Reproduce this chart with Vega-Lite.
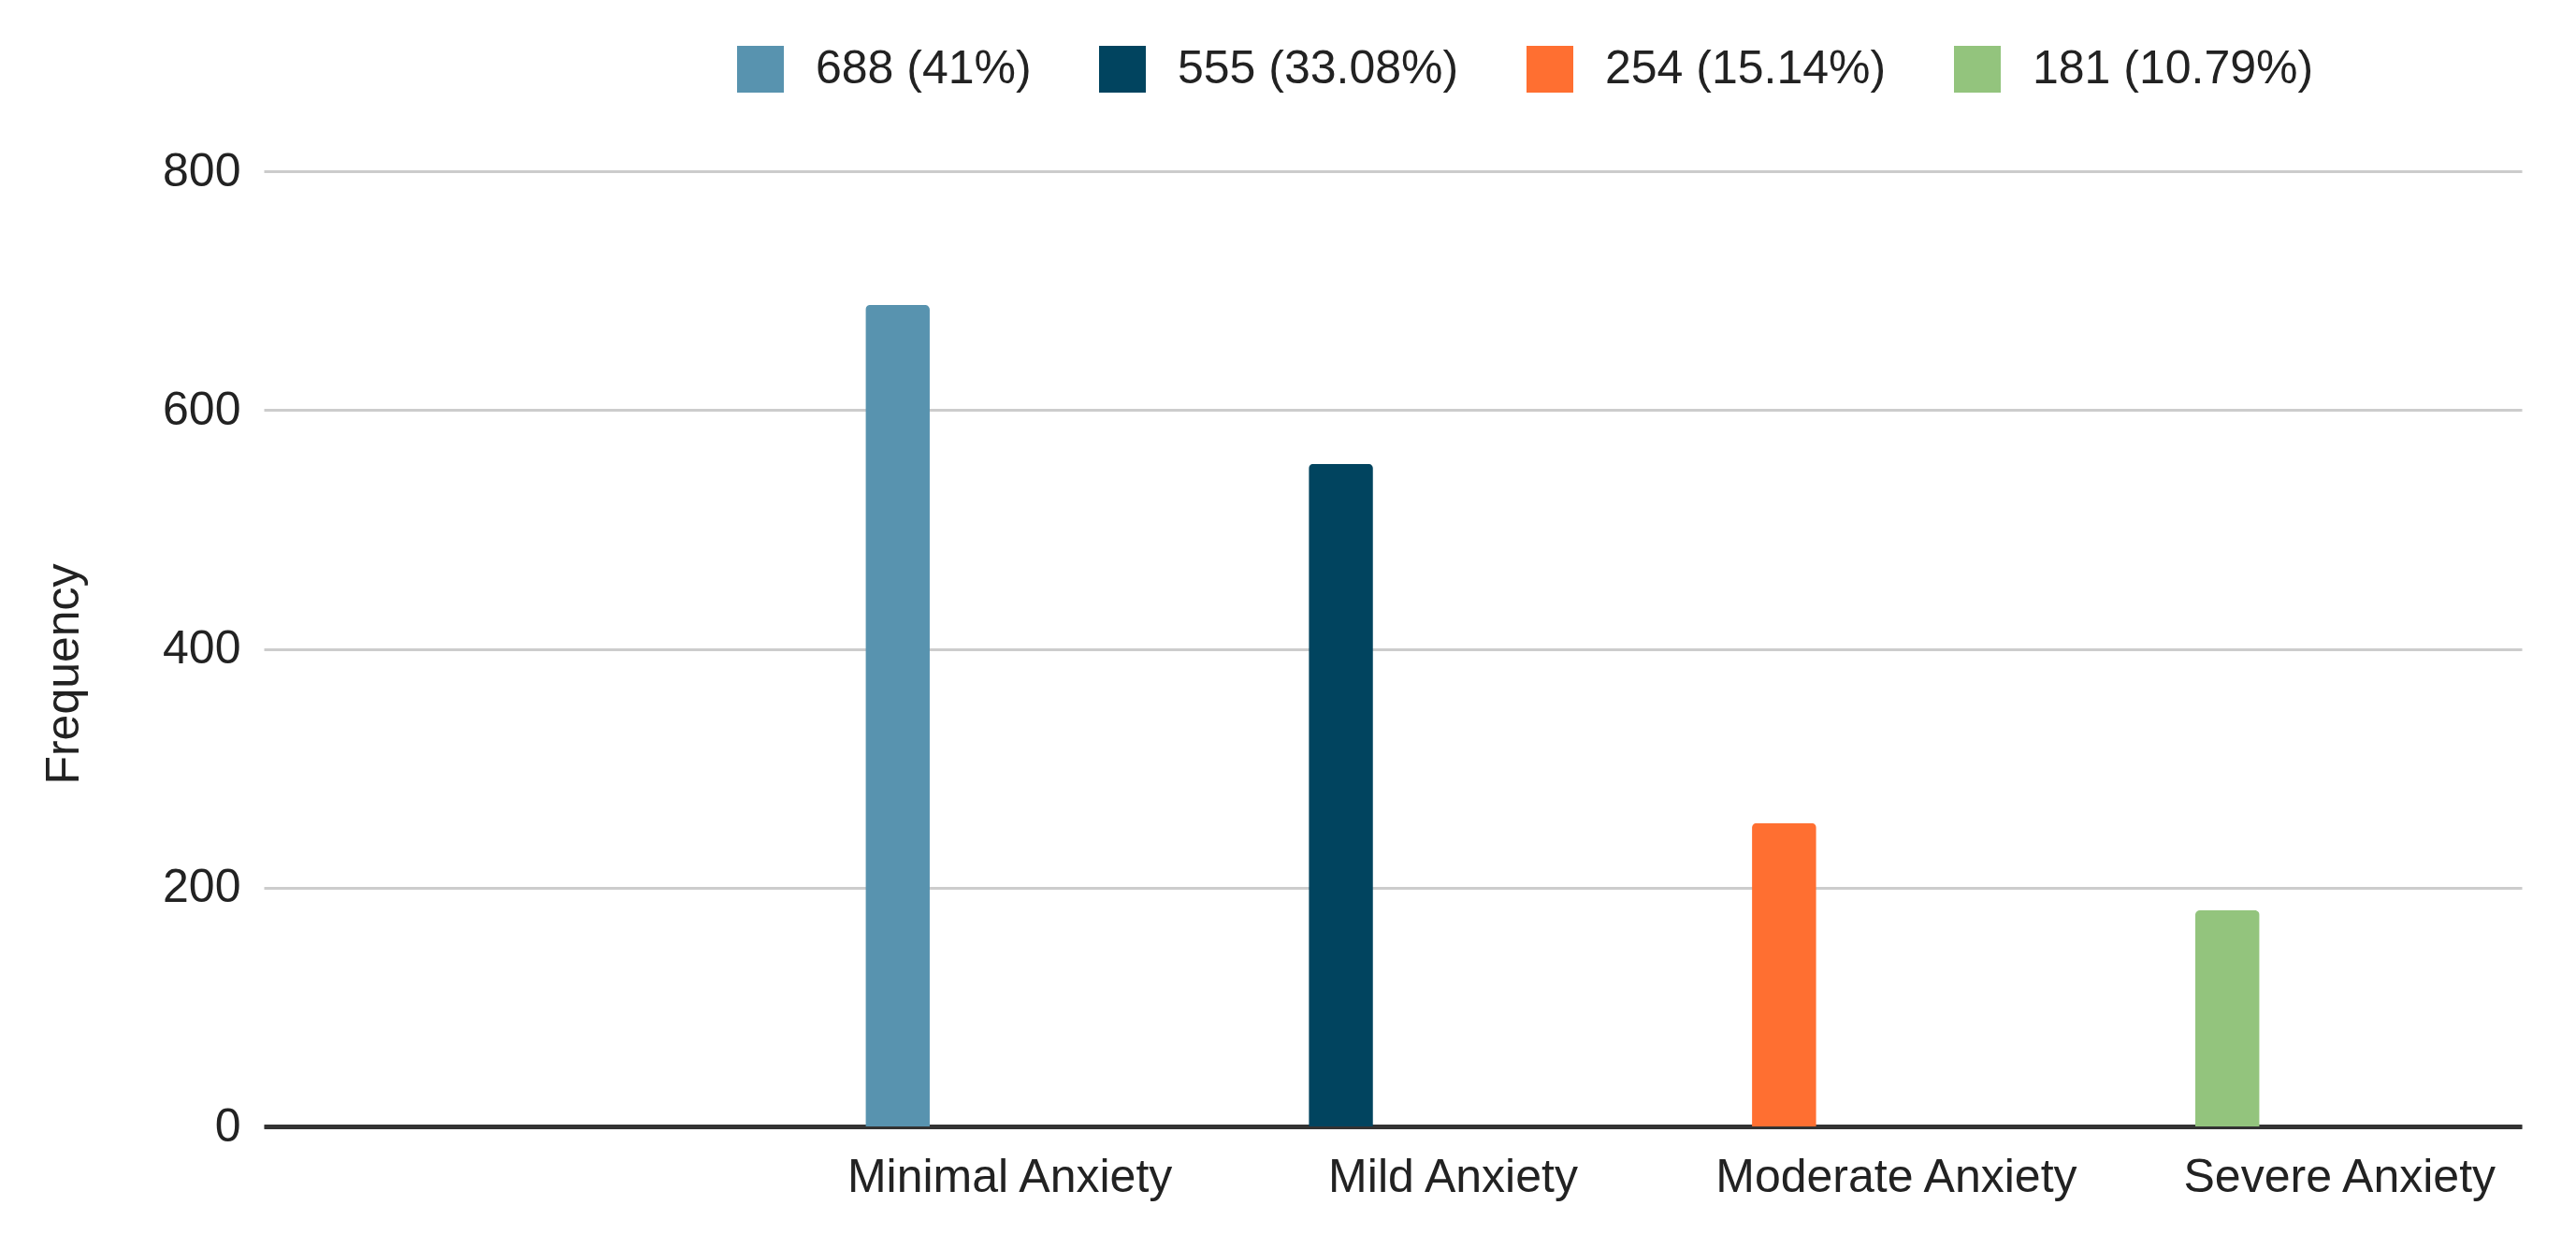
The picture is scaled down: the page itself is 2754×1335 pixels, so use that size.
{
  "$schema": "https://vega.github.io/schema/vega-lite/v6.json",
  "width": 2414,
  "height": 1021,
  "autosize": {"type": "none"},
  "padding": {"left": 282, "top": 183, "right": 58, "bottom": 131},
  "background": "white",
  "config": {
    "view": {"stroke": null},
    "font": "Liberation Sans",
    "axis": {
      "labelFont": "Liberation Sans",
      "labelFontSize": 50,
      "labelColor": "#222222",
      "labelLimit": 0,
      "titleFont": "Liberation Sans",
      "titleFontSize": 50,
      "titleFontWeight": "normal",
      "titleColor": "#222222"
    },
    "legend": {
      "labelFont": "Liberation Sans",
      "labelFontSize": 50,
      "labelColor": "#222222",
      "labelLimit": 0
    }
  },
  "data": {
    "values": [
      {"category": "Minimal Anxiety", "frequency": 688, "series": "688 (41%)"},
      {"category": "Mild Anxiety", "frequency": 555, "series": "555 (33.08%)"},
      {"category": "Moderate Anxiety", "frequency": 254, "series": "254 (15.14%)"},
      {"category": "Severe Anxiety", "frequency": 181, "series": "181 (10.79%)"}
    ]
  },
  "mark": {
    "type": "bar",
    "width": {"band": 0.145},
    "cornerRadiusTopLeft": 5,
    "cornerRadiusTopRight": 5
  },
  "encoding": {
    "x": {
      "field": "category",
      "type": "nominal",
      "sort": null,
      "scale": {"paddingInner": 0, "paddingOuter": 0.547, "align": 0.85},
      "axis": {
        "title": null,
        "labelAngle": 0,
        "labelOffset": 120,
        "labelPadding": 29,
        "ticks": false,
        "tickSize": 0,
        "domainColor": "#333333",
        "domainWidth": 5,
        "grid": false
      }
    },
    "y": {
      "field": "frequency",
      "type": "quantitative",
      "scale": {"domain": [0, 800]},
      "axis": {
        "title": "Frequency",
        "values": [0, 200, 400, 600, 800],
        "domain": false,
        "ticks": false,
        "tickSize": 0,
        "labelPadding": 25,
        "gridColor": "#cccccc",
        "gridWidth": 3,
        "titlePadding": 80,
        "titleY": 537
      }
    },
    "color": {
      "field": "series",
      "type": "nominal",
      "sort": null,
      "scale": {
        "domain": ["688 (41%)", "555 (33.08%)", "254 (15.14%)", "181 (10.79%)"],
        "range": ["#5893af", "#01445f", "#ff6f31", "#93c47d"]
      },
      "legend": {
        "title": null,
        "orient": "none",
        "direction": "horizontal",
        "legendX": 506,
        "legendY": -134,
        "symbolType": "square",
        "symbolSize": 2500,
        "symbolStrokeWidth": 0,
        "labelOffset": 34,
        "columnPadding": 72
      }
    }
  }
}
